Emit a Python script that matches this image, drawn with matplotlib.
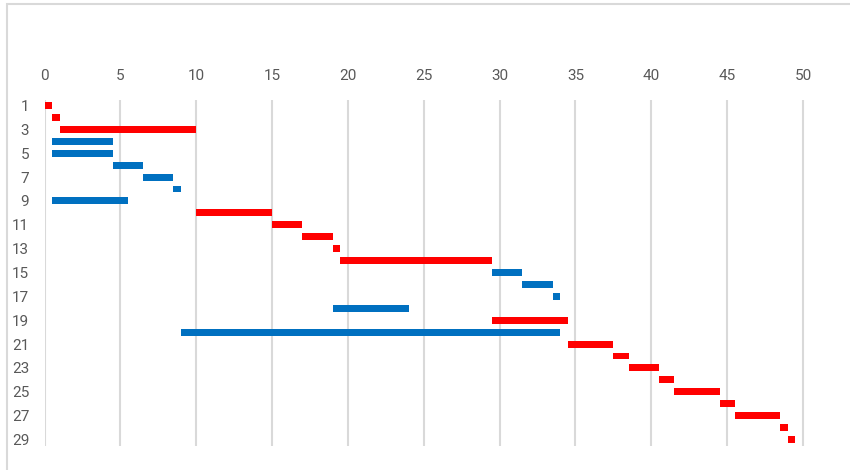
import matplotlib.pyplot as plt
from matplotlib.patches import Rectangle

# task rows (1..29), start and duration, colour group
rows = list(range(1, 30))
starts = [0, 0.5, 1, 0.5, 0.5, 4.5, 6.5, 8.5, 0.5, 10,
          15, 17, 19, 19.5, 29.5, 31.5, 33.5, 19, 29.5, 9,
          34.5, 37.5, 38.5, 40.5, 41.5, 44.5, 45.5, 48.5, 49]
durations = [0.5, 0.5, 9, 4, 4, 2, 2, 0.5, 5, 5,
             2, 2, 0.5, 10, 2, 2, 0.5, 5, 5, 25,
             3, 1, 2, 1, 3, 1, 3, 0.5, 0.5]
groups = ['r', 'r', 'r', 'b', 'b', 'b', 'b', 'b', 'b', 'r',
          'r', 'r', 'r', 'r', 'b', 'b', 'b', 'b', 'r', 'b',
          'r', 'r', 'r', 'r', 'r', 'r', 'r', 'r', 'r']
x_ticks = [0, 5, 10, 15, 20, 25, 30, 35, 40, 45, 50]
y_ticks = list(range(1, 30, 2))

colour_map = {'r': '#FF0000', 'b': '#0070C0'}
colours = [colour_map[g] for g in groups]

plt.rcParams['font.family'] = ['Roboto', 'DejaVu Sans']

fig = plt.figure(figsize=(8.5, 4.7), dpi=100)
W, H = 850, 470

# chart border (only top/left visible in the crop)
fig.patches.append(Rectangle((6.5 / W, -0.1), 1.2, 1.1 - 4 / H,
                             transform=fig.transFigure, fill=False,
                             edgecolor='#d9d9d9', linewidth=1.5))

left, right = 44.5, 840
top, bottom = 99.5, 445.5
ax = fig.add_axes([left / W, 1 - bottom / H, (right - left) / W, (bottom - top) / H])

ax.barh(rows, durations, left=starts, height=0.58, color=colours, zorder=3)

ax.set_xlim(0, (right - left) / 15.17)
ax.set_ylim(29.5, 0.5)
ax.set_xticks(x_ticks)
ax.set_yticks(y_ticks)
ax.xaxis.tick_top()
ax.tick_params(axis='x', length=0, pad=12, labelsize=11, labelcolor='#595959')
ax.tick_params(axis='y', length=0, pad=11, labelsize=11, labelcolor='#595959')

ax.grid(axis='x', color='#d9d9d9', linewidth=1.5, zorder=0)
for s in ax.spines.values():
    s.set_visible(False)

fig.savefig('out.png', dpi=100)
